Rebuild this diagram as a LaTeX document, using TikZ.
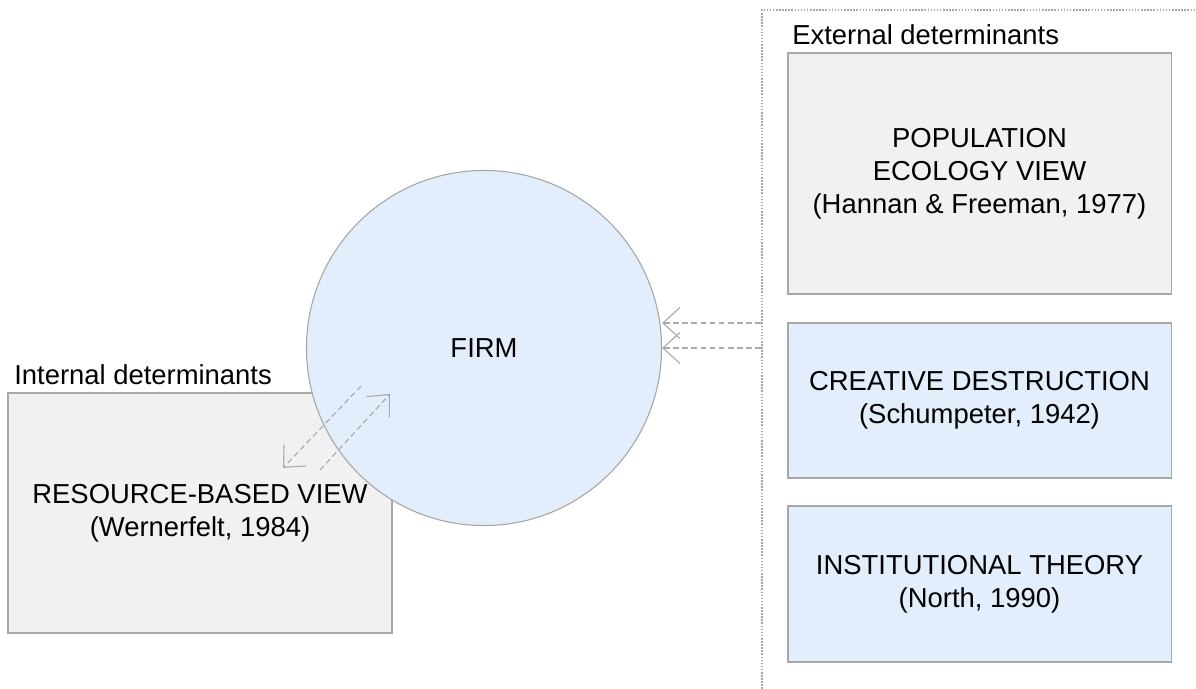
\documentclass[tikz,border=0pt]{standalone}
\usepackage{fontspec}
\setmainfont{Liberation Sans}
\usetikzlibrary{arrows.meta}
\definecolor{boxgray}{HTML}{F1F1F1}
\definecolor{boxblue}{HTML}{E2EEFB}
\definecolor{edgegray}{HTML}{A8A8A8}
\definecolor{linkgray}{HTML}{AAAAAA}

\begin{document}
\begin{tikzpicture}[x=0.025cm, y=-0.025cm,
  every node/.style={font=\fontsize{19.5pt}{23.5pt}\selectfont, text=black},
  theory/.style={draw=edgegray, line width=0.8pt, rectangle, align=center, inner sep=0pt},
  grey/.style={theory, fill=boxgray},
  blue/.style={theory, fill=boxblue},
  heading/.style={anchor=base west, inner sep=0pt},
  link/.style={draw=linkgray, line width=0.8pt, dash pattern=on 4pt off 2.5pt, -{Straight Barb[length=12pt, width=22pt]}}]
\useasboundingbox (0,0) rectangle (1196,689);
\draw[edgegray, line width=1.3pt, dash pattern=on 1.1pt off 1.1pt] (762,689) -- (762,10) -- (1196,10);
\node[heading] (int) at (14,384) {Internal determinants};
\node[heading] (ext) at (792,45) {External determinants};
\node[grey, minimum width=9.6cm, minimum height=6cm] (RBV) at (200,513) {RESOURCE-BASED VIEW\\(Wernerfelt, 1984)};
\node[grey, minimum width=9.575cm, minimum height=6.025cm] (PEV) at (979.5,173.5) {POPULATION\\ECOLOGY VIEW\\(Hannan \& Freeman, 1977)};
\node[blue, minimum width=9.575cm, minimum height=3.875cm] (CD) at (979.5,400.5) {CREATIVE DESTRUCTION\\(Schumpeter, 1942)};
\node[blue, minimum width=9.575cm, minimum height=3.9cm] (IT) at (979.5,584) {INSTITUTIONAL THEORY\\(North, 1990)};
\node[circle, draw=edgegray, fill=boxblue, line width=0.8pt, minimum size=8.875cm, inner sep=0pt] (firm) at (484,348) {FIRM};
% links between firm and determinants
\coordinate (in1) at (361,386);
\coordinate (out1) at (283,468);
\coordinate (in2) at (320,470);
\coordinate (out2) at (390,394);
\coordinate (ex1) at (761,323);
\coordinate (ex2) at (761,348);
\path (in1) edge[link] (out1)
  (in2) edge[link] (out2)
  (ex1) edge[link] (ex1 -| firm.east)
  (ex2) edge[link] (firm.east);
\end{tikzpicture}
\end{document}
